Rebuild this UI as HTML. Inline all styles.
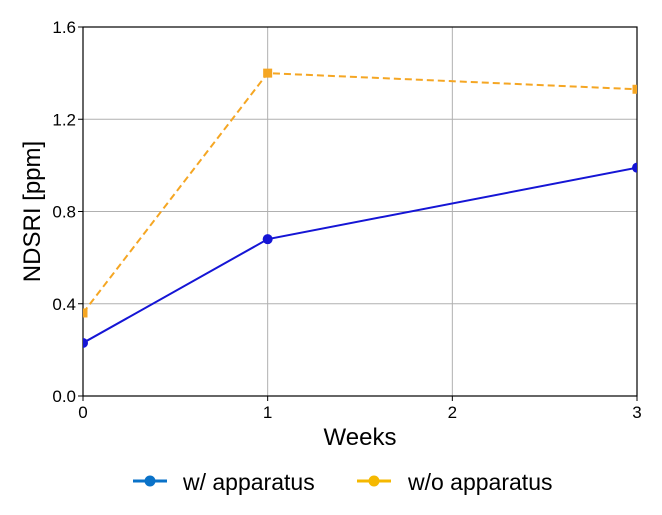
<!DOCTYPE html>
<html><head><meta charset="utf-8"><style>
body{margin:0;background:#fff;font-family:"Liberation Sans",Arial,sans-serif}
svg text{font-family:"Liberation Sans",Arial,sans-serif}
</style></head><body>
<svg id="c" width="662" height="510"></svg>
<script>
const weeks=[0,1,2,3];
const xTickLabels=["0","1","2","3"];
const yTicks=[0,0.4,0.8,1.2,1.6];
const yTickLabels=["0.0","0.4","0.8","1.2","1.6"];
const withX=[0,1,3];
const withApparatus=[0.23,0.68,0.99];
const withoutX=[0,1,3];
const withoutApparatus=[0.36,1.40,1.33];
const L=83,R=637,T=27,B=396;
const xs=v=>L+(v-0)/(3-0)*(R-L);
const ys=v=>B-(v-0)/(1.6-0)*(B-T);
const svg=document.getElementById('c');
const NS='http://www.w3.org/2000/svg';
function mk(tag,attrs,parent){const e=document.createElementNS(NS,tag);for(const k in attrs)e.setAttribute(k,attrs[k]);(parent||svg).appendChild(e);return e;}
const defs=mk('defs',{});const cp=mk('clipPath',{id:'clip'},defs);mk('rect',{x:L,y:T,width:R-L,height:B-T},cp);
weeks.forEach((w,i)=>{
 const g=mk('line',{x1:xs(w),x2:xs(w),y1:T,y2:B,stroke:'#b0b0b0','stroke-width':1});
 
 
 const t=mk('text',{x:xs(w),y:B+22,'text-anchor':'middle','font-size':17,fill:'#000'});t.textContent=xTickLabels[i];
 
 
 mk('line',{x1:xs(w),x2:xs(w),y1:B,y2:B+5,stroke:'#000'});
});
yTicks.forEach((v,i)=>{
 const g=mk('line',{x1:L,x2:R,y1:ys(v),y2:ys(v),stroke:'#b0b0b0','stroke-width':1});
 
 
 const t=mk('text',{x:L-7,y:ys(v)+6,'text-anchor':'end','font-size':17,fill:'#000'});t.textContent=yTickLabels[i];
 
 
 mk('line',{x1:L-5,x2:L,y1:ys(v),y2:ys(v),stroke:'#000'});
});
const fr=mk('rect',{x:L,y:T,width:R-L,height:B-T,fill:'none',stroke:'#000','stroke-width':1.2});


const gc=mk('g',{'clip-path':'url(#clip)'});
const p2=mk('polyline',{points:withoutX.map((x,i)=>xs(x)+','+ys(withoutApparatus[i])).join(' '),fill:'none',stroke:'#f5a623','stroke-width':2,'stroke-dasharray':'7,4'},gc);


withoutX.forEach((x,i)=>{const m=mk('rect',{x:xs(x)-4.5,y:ys(withoutApparatus[i])-4.5,width:9,height:9,fill:'#f5a623'},gc);
 
 });
const p1=mk('polyline',{points:withX.map((x,i)=>xs(x)+','+ys(withApparatus[i])).join(' '),fill:'none',stroke:'#1515d5','stroke-width':2},gc);


withX.forEach((x,i)=>{const m=mk('circle',{cx:xs(x),cy:ys(withApparatus[i]),r:5,fill:'#1515d5'},gc);
 
 });
const xt=mk('text',{x:(L+R)/2,y:445,'text-anchor':'middle','font-size':24,fill:'#000'});xt.textContent='Weeks';


const yt=mk('text',{x:0,y:0,'text-anchor':'middle','font-size':24,fill:'#000',transform:`translate(40,${(T+B)/2}) rotate(-90)`});yt.textContent='NDSRI [ppm]';


const lg1=mk('g',{});


mk('line',{x1:133,x2:167,y1:481,y2:481,stroke:'#0a72c8','stroke-width':3},lg1);
mk('circle',{cx:150,cy:481,r:5.5,fill:'#0a72c8'},lg1);
const t1=mk('text',{x:183,y:490,'font-size':23,fill:'#000'},lg1);t1.textContent='w/ apparatus';
const lg2=mk('g',{});


mk('line',{x1:357,x2:391,y1:481,y2:481,stroke:'#f5b800','stroke-width':3},lg2);
mk('circle',{cx:374,cy:481,r:5.5,fill:'#f5b800'},lg2);
const t2=mk('text',{x:408,y:490,'font-size':23,fill:'#000'},lg2);t2.textContent='w/o apparatus';
</script>
</body></html>
